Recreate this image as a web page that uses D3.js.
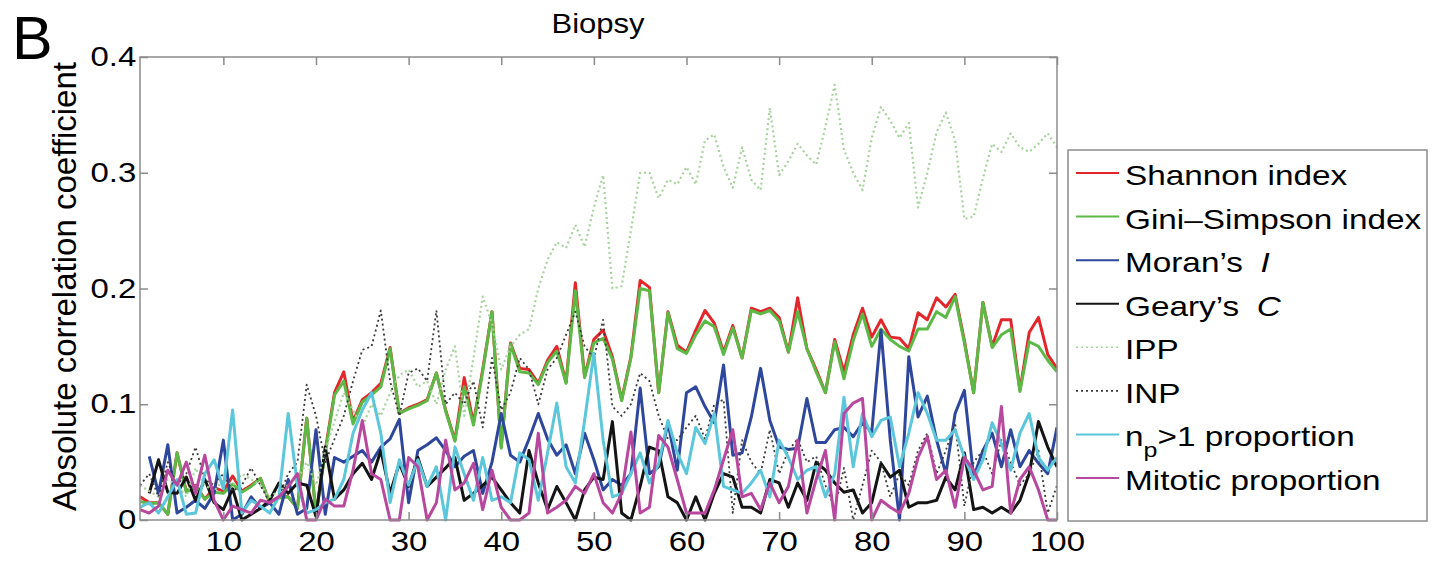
<!DOCTYPE html>
<html>
<head>
<meta charset="utf-8">
<script src="https://cdn.jsdelivr.net/npm/d3@7"></script>
<style>
  html, body { margin: 0; padding: 0; background: #fff; }
  svg { display: block; font-family: "Liberation Sans", Arial, Helvetica, sans-serif; }
</style>
</head>
<body>
<svg id="chart" width="1443" height="563"></svg>
<script>
// Number of top-ranked features considered (x axis)
const featureCounts = d3.range(1, 101);

const xTickValues = [10, 20, 30, 40, 50, 60, 70, 80, 90, 100];
const yTickValues = [0, 0.1, 0.2, 0.3, 0.4];

const shannon = [
  0.020, 0.015, 0.015, 0.005, 0.058, 0.025, 0.030, 0.018, 0.028, 0.025,
  0.038, 0.025, 0.030, 0.036, 0.015, 0.020, 0.020, 0.010, 0.088, 0.005,
  0.060, 0.110, 0.128, 0.085, 0.104, 0.110, 0.118, 0.149, 0.092, 0.097,
  0.100, 0.104, 0.127, 0.095, 0.069, 0.123, 0.084, 0.130, 0.180, 0.063,
  0.153, 0.131, 0.130, 0.118, 0.138, 0.150, 0.119, 0.205, 0.124, 0.156,
  0.164, 0.141, 0.104, 0.141, 0.207, 0.201, 0.110, 0.180, 0.151, 0.145,
  0.164, 0.181, 0.170, 0.145, 0.168, 0.140, 0.183, 0.180, 0.183, 0.175,
  0.145, 0.192, 0.148, 0.130, 0.110, 0.156, 0.128, 0.160, 0.183, 0.158,
  0.173, 0.158, 0.157, 0.148, 0.179, 0.173, 0.192, 0.184, 0.195, 0.155,
  0.110, 0.188, 0.150, 0.173, 0.173, 0.112, 0.162, 0.175, 0.143, 0.131
];

const giniSimpson = [
  0.016, 0.014, 0.015, 0.005, 0.058, 0.024, 0.029, 0.018, 0.024, 0.023,
  0.031, 0.024, 0.029, 0.036, 0.015, 0.019, 0.020, 0.010, 0.088, 0.005,
  0.058, 0.108, 0.120, 0.083, 0.102, 0.108, 0.115, 0.148, 0.092, 0.096,
  0.099, 0.103, 0.127, 0.094, 0.068, 0.115, 0.082, 0.128, 0.180, 0.062,
  0.152, 0.128, 0.127, 0.117, 0.136, 0.146, 0.118, 0.198, 0.123, 0.153,
  0.157, 0.139, 0.103, 0.140, 0.200, 0.198, 0.110, 0.179, 0.148, 0.144,
  0.160, 0.172, 0.167, 0.143, 0.166, 0.140, 0.181, 0.178, 0.181, 0.172,
  0.145, 0.180, 0.148, 0.128, 0.110, 0.154, 0.122, 0.155, 0.178, 0.150,
  0.165, 0.156, 0.150, 0.146, 0.165, 0.165, 0.180, 0.175, 0.193, 0.153,
  0.110, 0.188, 0.149, 0.160, 0.165, 0.111, 0.154, 0.150, 0.138, 0.128
];

const moransI = [
  null,  0.055, 0.023, 0.065, 0.006, 0.011, 0.017, 0.010, 0.023, 0.069,
  0.000, 0.005, 0.020, 0.010, 0.015, 0.005, 0.035, 0.005, 0.010, 0.078,
  0.005, 0.054, 0.050, 0.055, 0.060, 0.050, 0.063, 0.070, 0.087, 0.015,
  0.060, 0.065, 0.071, 0.060, 0.046, 0.055, 0.060, 0.023, 0.050, 0.092,
  0.056, 0.050, 0.070, 0.092, 0.070, 0.056, 0.065, 0.040, 0.075, 0.052,
  0.026, 0.035, 0.030, 0.040, 0.114, 0.040, 0.046, 0.084, 0.043, 0.110,
  0.115, 0.098, 0.084, 0.134, 0.056, 0.058, 0.089, 0.131, 0.086, 0.063,
  0.061, 0.062, 0.105, 0.067, 0.067, 0.078, 0.080, 0.072, 0.084, 0.076,
  0.164, 0.069, 0.000, 0.141, 0.089, 0.107, 0.069, 0.040, 0.092, 0.112,
  0.037, 0.060, 0.075, 0.046, 0.078, 0.046, 0.060, 0.049, 0.040, 0.080
];

const gearysC = [
  null,  0.023, 0.052, 0.024, 0.023, 0.037, 0.017, 0.035, 0.015, 0.009,
  0.027, 0.000, 0.005, 0.010, 0.017, 0.032, 0.023, 0.032, 0.030, 0.003,
  0.063, 0.018, 0.026, 0.040, 0.049, 0.035, 0.060, 0.023, 0.049, 0.029,
  0.054, 0.029, 0.037, 0.045, 0.054, 0.017, 0.023, 0.030, 0.037, 0.026,
  0.015, 0.006, 0.060, 0.032, 0.009, 0.029, 0.015, 0.000, 0.026, 0.037,
  0.035, 0.085, 0.006, 0.000, 0.029, 0.063, 0.060, 0.020, 0.015, 0.000,
  0.020, 0.000, 0.023, 0.040, 0.037, 0.011, 0.011, 0.006, 0.035, 0.032,
  0.011, 0.032, 0.017, 0.050, 0.043, 0.032, 0.024, 0.026, 0.006, 0.015,
  0.049, 0.037, 0.043, 0.011, 0.015, 0.015, 0.017, 0.037, 0.026, 0.058,
  0.009, 0.011, 0.006, 0.011, 0.006, 0.017, 0.040, 0.085, 0.063, 0.046
];

const ipp = [
  0.030, 0.025, 0.020, 0.035, 0.030, 0.020, 0.045, 0.030, 0.025, 0.035,
  0.030, 0.040, 0.035, 0.030, 0.020, 0.025, 0.030, 0.035, 0.050, 0.030,
  0.060, 0.085, 0.110, 0.095, 0.080, 0.100, 0.090, 0.110, 0.125, 0.130,
  0.115, 0.120, 0.100, 0.130, 0.150, 0.090, 0.140, 0.193, 0.170, 0.130,
  0.150, 0.160, 0.165, 0.200, 0.225, 0.240, 0.235, 0.255, 0.236, 0.270,
  0.298, 0.200, 0.202, 0.250, 0.300, 0.300, 0.278, 0.294, 0.290, 0.305,
  0.290, 0.328, 0.333, 0.305, 0.287, 0.322, 0.294, 0.285, 0.356, 0.298,
  0.310, 0.325, 0.315, 0.307, 0.340, 0.376, 0.320, 0.300, 0.285, 0.330,
  0.357, 0.345, 0.330, 0.343, 0.270, 0.300, 0.335, 0.352, 0.328, 0.260,
  0.262, 0.295, 0.325, 0.318, 0.334, 0.322, 0.318, 0.325, 0.334, 0.322
];

const inp = [
  0.030, 0.040, 0.020, 0.050, 0.030, 0.040, 0.063, 0.035, 0.030, 0.040,
  0.025, 0.030, 0.045, 0.030, 0.015, 0.020, 0.040, 0.050, 0.117, 0.090,
  0.050, 0.070, 0.090, 0.120, 0.147, 0.150, 0.181, 0.120, 0.090, 0.127,
  0.131, 0.120, 0.181, 0.100, 0.110, 0.100, 0.120, 0.080, 0.140, 0.095,
  0.110, 0.140, 0.130, 0.100, 0.130, 0.140, 0.160, 0.180, 0.150, 0.140,
  0.173, 0.098, 0.090, 0.100, 0.127, 0.120, 0.090, 0.070, 0.069, 0.080,
  0.090, 0.070, 0.100, 0.104, 0.006, 0.069, 0.050, 0.040, 0.078, 0.040,
  0.060, 0.070, 0.050, 0.055, 0.030, 0.010, 0.045, 0.000, 0.030, 0.060,
  0.050, 0.020, 0.040, 0.030, 0.060, 0.075, 0.040, 0.060, 0.084, 0.012,
  0.050, 0.060, 0.040, 0.069, 0.050, 0.030, 0.040, 0.060, 0.006, 0.030
];

const npProportion = [
  0.011, 0.015, 0.006, 0.020, 0.035, 0.005, 0.006, 0.040, 0.052, 0.027,
  0.095, 0.006, 0.017, 0.012, 0.006, 0.020, 0.092, 0.030, 0.006, 0.009,
  0.015, 0.018, 0.035, 0.075, 0.095, 0.110, 0.075, 0.015, 0.052, 0.030,
  0.052, 0.029, 0.046, 0.000, 0.063, 0.040, 0.017, 0.054, 0.017, 0.020,
  0.015, 0.058, 0.052, 0.017, 0.058, 0.101, 0.046, 0.032, 0.086, 0.144,
  0.069, 0.020, 0.023, 0.040, 0.058, 0.032, 0.049, 0.086, 0.058, 0.040,
  0.080, 0.066, 0.092, 0.029, 0.026, 0.023, 0.032, 0.043, 0.020, 0.069,
  0.054, 0.035, 0.043, 0.046, 0.020, 0.040, 0.106, 0.046, 0.092, 0.072,
  0.086, 0.089, 0.046, 0.075, 0.110, 0.092, 0.069, 0.069, 0.078, 0.054,
  0.035, 0.052, 0.084, 0.066, 0.043, 0.075, 0.092, 0.054, 0.043, 0.054
];

const mitoticProportion = [
  0.009, 0.006, 0.012, 0.043, 0.030, 0.050, 0.023, 0.056, 0.017, 0.000,
  0.012, 0.009, 0.006, 0.017, 0.015, 0.020, 0.029, 0.040, 0.000, 0.000,
  0.018, 0.012, 0.012, 0.043, 0.086, 0.040, 0.035, 0.000, 0.000, 0.054,
  0.046, 0.000, 0.015, 0.069, 0.026, 0.032, 0.049, 0.009, 0.043, 0.011,
  0.000, 0.000, 0.006, 0.075, 0.006, 0.011, 0.017, 0.029, 0.023, 0.040,
  0.015, 0.006, 0.023, 0.076, 0.006, 0.011, 0.073, 0.063, 0.035, 0.006,
  0.006, 0.006, 0.026, 0.052, 0.078, 0.020, 0.023, 0.009, 0.032, 0.015,
  0.029, 0.069, 0.006, 0.035, 0.060, 0.000, 0.092, 0.101, 0.105, 0.000,
  0.017, 0.011, 0.006, 0.023, 0.054, 0.072, 0.035, 0.043, 0.011, 0.054,
  0.043, 0.026, 0.029, 0.098, 0.006, 0.035, 0.046, 0.026, 0.000, 0.000
];

const seriesNames = [
  "Shannon index", "Gini\u2013Simpson index", "Moran\u2019s I", "Geary\u2019s C",
  "IPP", "INP", "np>1 proportion", "Mitotic proportion"
];

// Plot order matters: later series are drawn on top.
const series = [
  { name: seriesNames[0], values: shannon,           color: "#e3262b", width: 3,   dash: null },
  { name: seriesNames[1], values: giniSimpson,       color: "#5cb946", width: 3,   dash: null },
  { name: seriesNames[2], values: moransI,           color: "#2e479c", width: 3,   dash: null },
  { name: seriesNames[3], values: gearysC,           color: "#141414", width: 3,   dash: null },
  { name: seriesNames[4], values: ipp,               color: "#a6d39c", width: 2.2, dash: "2,3" },
  { name: seriesNames[5], values: inp,               color: "#3a3a3a", width: 1.8, dash: "2,3" },
  { name: seriesNames[6], values: npProportion,      color: "#5cc6da", width: 3,   dash: null },
  { name: seriesNames[7], values: mitoticProportion, color: "#b8479e", width: 3,   dash: null }
];

const svg = d3.select("#chart");
const plot = { left: 140, right: 1057, top: 57, bottom: 520 };

const x = d3.scaleLinear().domain([1, 100]).range([plot.left, plot.right]);
const y = d3.scaleLinear().domain([0, 0.4]).range([plot.bottom, plot.top]);

const axisColor = "#8c8c8c";
const tickFont = 27;
const wide = 1.22; // horizontal stretch of the figure lettering

// Plot clipping
svg.append("defs").append("clipPath").attr("id", "plotClip")
  .append("rect")
  .attr("x", plot.left).attr("y", plot.top - 2)
  .attr("width", plot.right - plot.left).attr("height", plot.bottom - plot.top + 4);

// Data lines
const line = d3.line()
  .defined(d => d.v !== null)
  .x(d => x(d.i))
  .y(d => y(d.v));

const linesG = svg.append("g").attr("clip-path", "url(#plotClip)");
series.forEach(s => {
  const pts = featureCounts.map((i, k) => ({ i, v: s.values[k] }));
  linesG.append("path")
    .datum(pts)
    .attr("fill", "none")
    .attr("stroke", s.color)
    .attr("stroke-width", s.width)
    .attr("stroke-linejoin", "round")
    .attr("stroke-dasharray", s.dash)
    .attr("d", line);
});

// Axes box
svg.append("rect")
  .attr("x", plot.left).attr("y", plot.top)
  .attr("width", plot.right - plot.left).attr("height", plot.bottom - plot.top)
  .attr("fill", "none").attr("stroke", axisColor).attr("stroke-width", 1.5);

function styleAxis(g, showLabels) {
  g.select(".domain").remove();
  g.selectAll(".tick line").attr("stroke", axisColor).attr("stroke-width", 1.5);
  g.selectAll(".tick text")
    .attr("fill", "#000")
    .attr("transform", `scale(${wide},1)`)
    .style("font-size", tickFont + "px")
    .style("font-family", "'Liberation Sans', Arial, sans-serif");
  if (!showLabels) g.selectAll(".tick text").remove();
}

const yFormat = d => d === 0 ? "0" : d3.format(".1f")(d);

svg.append("g")
  .attr("transform", `translate(0,${plot.bottom})`)
  .call(d3.axisBottom(x).tickValues(xTickValues).tickSizeInner(-8).tickSizeOuter(0).tickPadding(12))
  .call(g => styleAxis(g, true));

svg.append("g")
  .attr("transform", `translate(0,${plot.top})`)
  .call(d3.axisTop(x).tickValues(xTickValues).tickSizeInner(-8).tickSizeOuter(0))
  .call(g => styleAxis(g, false));

svg.append("g")
  .attr("transform", `translate(${plot.left},0)`)
  .call(d3.axisLeft(y).tickValues(yTickValues).tickFormat(yFormat).tickSizeInner(-8).tickSizeOuter(0).tickPadding(3))
  .call(g => styleAxis(g, true));

svg.append("g")
  .attr("transform", `translate(${plot.right},0)`)
  .call(d3.axisRight(y).tickValues(yTickValues).tickSizeInner(-8).tickSizeOuter(0))
  .call(g => styleAxis(g, false));

// Titles
svg.append("text")
  .attr("transform", "translate(598,33) scale(1.15,1)")
  .attr("text-anchor", "middle")
  .style("font-size", "27px")
  .text("Biopsy");

svg.append("text")
  .attr("x", 12).attr("y", 59)
  .style("font-size", "61px")
  .text("B");

svg.append("text")
  .attr("transform", `translate(76,${(plot.top + plot.bottom) / 2 - 2}) rotate(-90)`)
  .attr("text-anchor", "middle")
  .style("font-size", "33px")
  .text("Absolute correlation coefficient");

// Legend
const legend = svg.append("g");
legend.append("rect")
  .attr("x", 1068).attr("y", 150)
  .attr("width", 359).attr("height", 371)
  .attr("fill", "#fff").attr("stroke", axisColor).attr("stroke-width", 1.5);

const rowY = d3.scaleLinear().domain([0, 7]).range([185, 490]);
series.forEach((s, k) => {
  const by = rowY(k);
  legend.append("line")
    .attr("x1", 1076).attr("x2", 1119)
    .attr("y1", by - 12).attr("y2", by - 12)
    .attr("stroke", s.color)
    .attr("stroke-width", s.dash ? 1.6 : 2)
    .attr("stroke-dasharray", s.dash);

  const t = legend.append("text")
    .attr("transform", `translate(1125,${by}) scale(1.19,1)`)
    .style("font-size", "28px");
  if (k === 2) {
    t.append("tspan").text("Moran\u2019s ");
    t.append("tspan").attr("dx", 7).style("font-style", "italic").text("I");
  } else if (k === 3) {
    t.append("tspan").text("Geary\u2019s ");
    t.append("tspan").attr("dx", 7).style("font-style", "italic").text("C");
  } else if (k === 6) {
    t.append("tspan").text("n");
    t.append("tspan").attr("dy", 11).style("font-size", "21px").text("p");
    t.append("tspan").attr("dy", -11).text(">1 proportion");
  } else {
    t.text(s.name);
  }
});
</script>
</body>
</html>
